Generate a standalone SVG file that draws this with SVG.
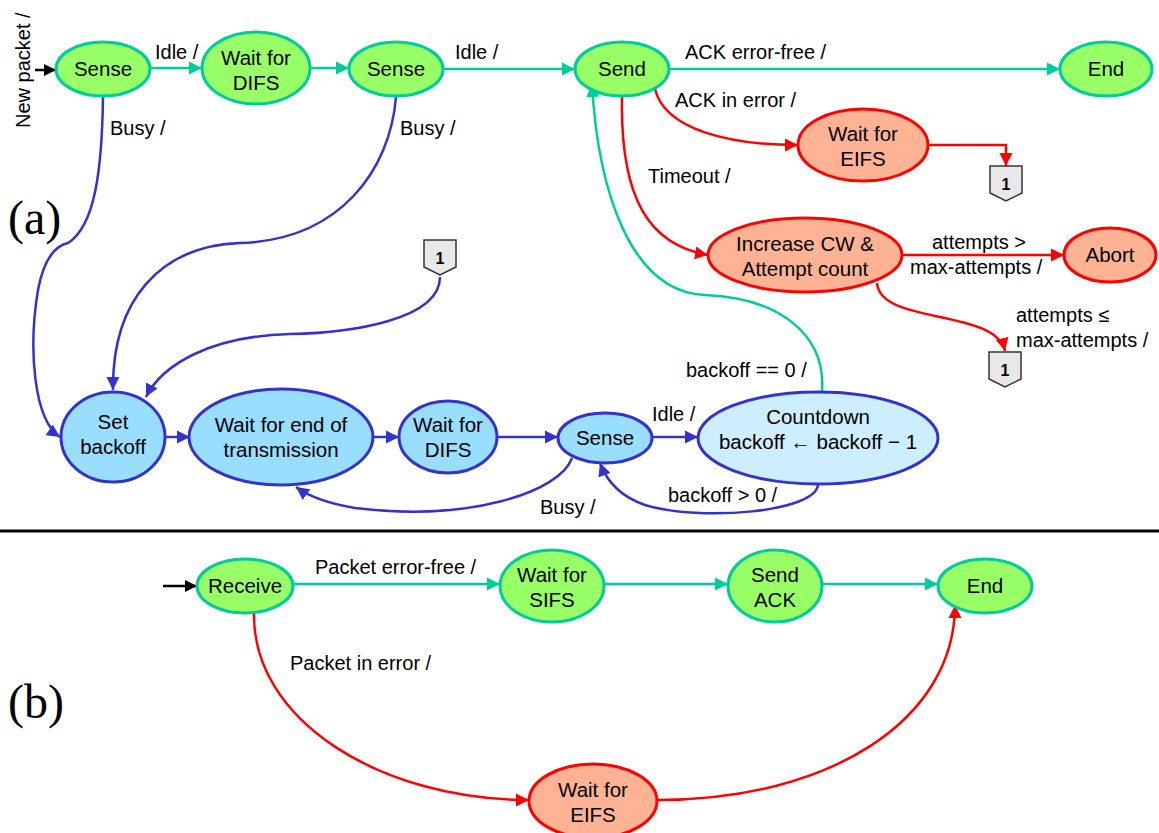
<svg xmlns="http://www.w3.org/2000/svg" width="1159" height="833" viewBox="0 0 1159 833">
<style>
text{font-family:"Liberation Sans",Arial,sans-serif;fill:#000}
.n{font-size:20.5px;text-anchor:middle}
.l{font-size:20px}
.g{fill:#99FF66;stroke:#00CC99;stroke-width:3}
.b{fill:#99DDFF;stroke:#3333CC;stroke-width:3}
.bl{fill:#CCEEFF;stroke:#3333CC;stroke-width:3}
.r{fill:#FFB394;stroke:#FF0000;stroke-width:3}
.eg{fill:none;stroke:#00CC99;stroke-width:2.5}
.eb{fill:none;stroke:#3333CC;stroke-width:2.5}
.er{fill:none;stroke:#FF0000;stroke-width:2.5}
.ek{fill:none;stroke:#000;stroke-width:2.5}
.pent{fill:#E8E8E8;stroke:#333;stroke-width:1.5}
.one{font-size:16px;font-weight:bold;text-anchor:middle}
.big{font-family:"Liberation Serif","Times New Roman",serif;font-size:48px}
</style>
<defs>
<marker id="ag" viewBox="0 0 10 10" refX="10" refY="5" markerUnits="userSpaceOnUse" markerWidth="13" markerHeight="14" orient="auto"><path d="M0,0 L10,5 L0,10z" fill="#00CC99"/></marker>
<marker id="ab" viewBox="0 0 10 10" refX="10" refY="5" markerUnits="userSpaceOnUse" markerWidth="13" markerHeight="14" orient="auto"><path d="M0,0 L10,5 L0,10z" fill="#3333CC"/></marker>
<marker id="ar" viewBox="0 0 10 10" refX="10" refY="5" markerUnits="userSpaceOnUse" markerWidth="13" markerHeight="14" orient="auto"><path d="M0,0 L10,5 L0,10z" fill="#FF0000"/></marker>
<marker id="ak" viewBox="0 0 10 10" refX="10" refY="5" markerUnits="userSpaceOnUse" markerWidth="12" markerHeight="14" orient="auto"><path d="M0,0 L10,5 L0,10z" fill="#000"/></marker>
<polygon id="pg" class="pent" points="-16,-18 16,-18 16,9 0,17 -16,9"/>
</defs>

<text class="big" x="8" y="234">(a)</text>
<text class="big" x="8" y="718">(b)</text>
<line x1="0" y1="531" x2="1159" y2="531" stroke="#000" stroke-width="3"/>

<g id="connectors">
<line class="ek" x1="35" y1="70" x2="56" y2="70" marker-end="url(#ak)"/>
<line class="eg" x1="150" y1="68" x2="202" y2="68" marker-end="url(#ag)"/>
<line class="eg" x1="310" y1="68" x2="349" y2="68" marker-end="url(#ag)"/>
<line class="eg" x1="443" y1="69" x2="575" y2="69" marker-end="url(#ag)"/>
<line class="eg" x1="669" y1="69" x2="1060" y2="69" marker-end="url(#ag)"/>
<path class="er" d="M655,89 C665,130 730,145 798,145" marker-end="url(#ar)"/>
<path class="er" d="M928,145 L1006,145 L1006,166" marker-end="url(#ar)"/>
<path class="er" d="M622,97 C620,200 650,245 708,255" marker-end="url(#ar)"/>
<line class="er" x1="903" y1="255" x2="1064" y2="255" marker-end="url(#ar)"/>
<path class="er" d="M877,283 C880,325 995,308 1005,351" marker-end="url(#ar)"/>
<path class="eg" d="M822,391 C826,335 780,298 705,295 C630,292 598,190 592,84" marker-end="url(#ag)"/>
<path class="eb" d="M103,97 C102,170 95,226 68,243 C55,246 44,258 38,290 C28,350 34,420 60,437" marker-end="url(#ab)"/>
<path class="eb" d="M396,97 C390,170 340,240 240,243 C160,246 112,300 113,390" marker-end="url(#ab)"/>
<path class="eb" d="M440,277 C440,320 350,333 290,334 C210,336 162,365 146,397" marker-end="url(#ab)"/>
<line class="eb" x1="165" y1="437" x2="190" y2="437" marker-end="url(#ab)"/>
<line class="eb" x1="373" y1="437" x2="399" y2="437" marker-end="url(#ab)"/>
<line class="eb" x1="497" y1="437" x2="558" y2="437" marker-end="url(#ab)"/>
<line class="eb" x1="653" y1="437" x2="698" y2="437" marker-end="url(#ab)"/>
<path class="eb" d="M818,484 C818,512 700,522 645,505 C622,497 607,482 600,463" marker-end="url(#ab)"/>
<path class="eb" d="M572,458 C560,492 470,522 355,508 C325,503 307,495 296,487" marker-end="url(#ab)"/>

<line class="ek" x1="163" y1="586" x2="197" y2="586" marker-end="url(#ak)"/>
<line class="eg" x1="292" y1="584" x2="500" y2="584" marker-end="url(#ag)"/>
<line class="eg" x1="604" y1="584" x2="728" y2="584" marker-end="url(#ag)"/>
<line class="eg" x1="822" y1="584" x2="938" y2="584" marker-end="url(#ag)"/>
<path class="er" d="M254,613 C252,720 380,800 529,800" marker-end="url(#ar)"/>
<path class="er" d="M657,800 C830,800 955,720 955,605" marker-end="url(#ar)"/>

<text class="l" transform="translate(30,128) rotate(-90)">New packet /</text>
<text class="l" x="155" y="59">Idle /</text>
<text class="l" x="455" y="59">Idle /</text>
<text class="l" x="685" y="59">ACK error-free /</text>
<text class="l" x="675" y="107">ACK in error /</text>
<text class="l" x="648" y="183">Timeout /</text>
<text class="l" x="932" y="249">attempts &gt;</text>
<text class="l" x="910" y="274">max-attempts /</text>
<text class="l" x="1016" y="322">attempts ≤</text>
<text class="l" x="1016" y="347">max-attempts /</text>
<text class="l" x="686" y="377">backoff == 0 /</text>
<text class="l" x="110" y="135">Busy /</text>
<text class="l" x="400" y="135">Busy /</text>
<text class="l" x="652" y="421">Idle /</text>
<text class="l" x="668" y="502">backoff &gt; 0 /</text>
<text class="l" x="540" y="514">Busy /</text>
<text class="l" x="315" y="574">Packet error-free /</text>
<text class="l" x="290" y="670">Packet in error /</text>
</g>

<g id="n-sense1"><ellipse class="g" cx="103" cy="69" rx="47" ry="27"/><text class="n" x="103" y="76">Sense</text></g>
<g id="n-difs1"><ellipse class="g" cx="256" cy="68" rx="54" ry="36"/><text class="n" x="256" y="65">Wait for</text><text class="n" x="256" y="90">DIFS</text></g>
<g id="n-sense2"><ellipse class="g" cx="396" cy="69" rx="47" ry="27"/><text class="n" x="396" y="76">Sense</text></g>
<g id="n-send"><ellipse class="g" cx="622" cy="69" rx="47" ry="27"/><text class="n" x="622" y="76">Send</text></g>
<g id="n-end1"><ellipse class="g" cx="1106" cy="69" rx="46" ry="27"/><text class="n" x="1106" y="76">End</text></g>
<g id="n-eifs1"><ellipse class="r" cx="863" cy="145" rx="65" ry="36"/><text class="n" x="863" y="141">Wait for</text><text class="n" x="863" y="166">EIFS</text></g>
<g id="n-c1a"><use href="#pg" x="1006" y="184"/><text class="one" x="1006" y="190">1</text></g>
<g id="n-incr"><ellipse class="r" cx="805" cy="255" rx="97" ry="37"/><text class="n" x="805" y="251">Increase CW &amp;</text><text class="n" x="805" y="276">Attempt count</text></g>
<g id="n-abort"><ellipse class="r" cx="1110" cy="255" rx="46" ry="27"/><text class="n" x="1110" y="262">Abort</text></g>
<g id="n-c1b"><use href="#pg" x="1005" y="370"/><text class="one" x="1005" y="376">1</text></g>
<g id="n-c1c"><use href="#pg" x="440" y="258"/><text class="one" x="440" y="264">1</text></g>
<g id="n-setbo"><ellipse class="b" cx="113" cy="437" rx="52" ry="45"/><text class="n" x="113" y="429">Set</text><text class="n" x="113" y="454">backoff</text></g>
<g id="n-waitend"><ellipse class="b" cx="281" cy="437" rx="92" ry="48"/><text class="n" x="281" y="432">Wait for end of</text><text class="n" x="281" y="457">transmission</text></g>
<g id="n-difs2"><ellipse class="b" cx="448" cy="437" rx="49" ry="36"/><text class="n" x="448" y="432">Wait for</text><text class="n" x="448" y="457">DIFS</text></g>
<g id="n-sense3"><ellipse class="b" cx="605" cy="438" rx="47" ry="25"/><text class="n" x="605" y="445">Sense</text></g>
<g id="n-count"><ellipse class="bl" cx="818" cy="438" rx="120" ry="46"/><text class="n" x="818" y="424">Countdown</text><text class="n" x="818" y="449">backoff  ← backoff − 1</text></g>

<g id="n-recv"><ellipse class="g" cx="245" cy="586" rx="48" ry="27"/><text class="n" x="245" y="593">Receive</text></g>
<g id="n-sifs"><ellipse class="g" cx="552" cy="586" rx="52" ry="36"/><text class="n" x="552" y="582">Wait for</text><text class="n" x="552" y="607">SIFS</text></g>
<g id="n-sack"><ellipse class="g" cx="775" cy="586" rx="47" ry="36"/><text class="n" x="775" y="582">Send</text><text class="n" x="775" y="607">ACK</text></g>
<g id="n-end2"><ellipse class="g" cx="985" cy="586" rx="47" ry="27"/><text class="n" x="985" y="593">End</text></g>
<g id="n-eifs2"><ellipse class="r" cx="593" cy="801" rx="64" ry="37"/><text class="n" x="593" y="797">Wait for</text><text class="n" x="593" y="822">EIFS</text></g>
</svg>
